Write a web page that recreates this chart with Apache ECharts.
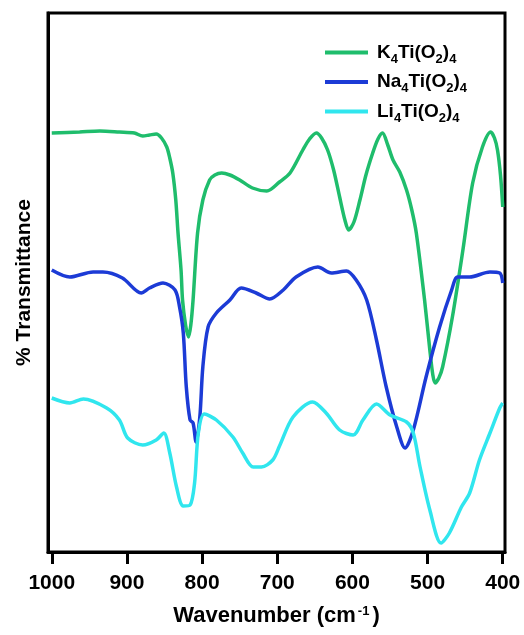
<!DOCTYPE html>
<html>
<head>
<meta charset="utf-8">
<script src="https://cdn.jsdelivr.net/npm/echarts@6/dist/echarts.min.js"></script>
<style>
  html, body { margin: 0; padding: 0; background: #fff; }
  #chart { width: 524px; height: 635px; }
</style>
</head>
<body>
<div id="chart"></div>
<script>
// wavenumber (cm-1), transmittance in arbitrary units (traces are offset)
const kData = [
  [1000,419],[963,420],[936,421],[910,420],[890,419],[879,416],[870,417],[861,418],[854,414],
  [847,405],[843,394],[839,379],[835,352],[832,319],[828,282],[826,252],[822,227],[818,215],
  [815,227],[812,252],[806,319],[799,352],[790,372],[783,377],[774,379],[763,377],[750,372],
  [733,364],[714,361],[697,370],[683,379],[666,402],[657,413],[648,419],[641,414],[633,402],
  [625,382],[617,355],[610,332],[605,322],[598,330],[590,352],[582,377],[573,399],[566,413],
  [560,419],[553,407],[546,392],[537,380],[528,362],[521,342],[515,319],[504,252],[497,202],
  [493,177],[490,169],[485,174],[480,185],[467,235],[453,302],[440,369],[427,405],[416,420],
  [411,414],[407,402],[403,377],[400,345]
]
const naData = [
  [1000,282],[976,275],[945,280],[932,280],[906,274],[881,259],[870,264],[852,269],[836,262],
  [830,245],[825,219],[821,165],[816,132],[812,129],[808,110],[803,135],[799,185],[792,225],
  [781,239],[763,252],[748,264],[728,259],[710,253],[692,262],[675,275],[646,285],[628,279],
  [608,281],[595,272],[581,252],[568,212],[555,165],[541,125],[530,104],[519,122],[502,175],
  [484,225],[468,262],[460,275],[444,275],[417,280],[404,279],[400,269]
]
const liData = [
  [1000,154],[976,149],[958,153],[927,144],[910,132],[899,114],[879,107],[861,112],[851,119],
  [843,99],[834,65],[825,46],[816,47],[810,69],[805,119],[797,138],[781,132],[759,115],
  [746,99],[732,85],[721,85],[706,92],[697,106],[679,135],[653,150],[635,139],[617,122],
  [599,117],[586,132],[568,148],[550,137],[528,130],[519,119],[510,85],[497,42],[482,9],
  [471,19],[455,45],[444,59],[431,92],[417,119],[404,144],[400,149]
]
const xTicks = [1000, 900, 800, 700, 600, 500, 400]
const seriesNames = ['K4Ti(O2)4', 'Na4Ti(O2)4', 'Li4Ti(O2)4']
const seriesColors = ['#1fbd6c', '#1c3bd6', '#30e6ee']

const chart = echarts.init(document.getElementById('chart'))

// legend labels with subscripts
function formulaRich(name){
    return name.replace(/(\d)/g, '{s|$1}').replace(/([^}|\d]+)(?=\{|$)/g, '{m|$1}')
}

const option = {
    animation: false,
    grid: {
        left: 48, right: 19, top: 13, bottom: 83,
        show: true,
        borderColor: '#000',
        borderWidth: 3
    },
    legend: {
        orient: 'vertical',
        left: 320,
        top: 38,
        itemWidth: 43,
        itemHeight: 4,
        itemGap: 7,
        icon: 'rect',
        formatter: (name) => formulaRich(name),
        textStyle: {
            padding: [0, 0, 0, 4],
            rich: {
                m: { fontFamily: 'Liberation Sans, Arial', fontWeight: 'bold', fontSize: 19, lineHeight: 26, color: '#000', verticalAlign: 'middle' },
                s: { fontFamily: 'Liberation Sans, Arial', fontWeight: 'bold', fontSize: 13, lineHeight: 13, color: '#000', verticalAlign: 'bottom' }
            }
        },
        data: seriesNames
    },
    xAxis: {
        type: 'value',
        inverse: true,
        min: 397,
        max: 1005,
        name: 'Wavenumber (cm{sup|-1})',
        nameLocation: 'middle',
        nameGap: 53,
        nameTextStyle: {
            fontFamily: 'Liberation Sans, Arial',
            fontWeight: 'bold',
            fontSize: 22,
            color: '#000',
            rich: {
                sup: { fontFamily: 'Liberation Sans, Arial', fontWeight: 'bold', fontSize: 13, color: '#000', verticalAlign: 'top', padding: [0, 3, 8, 2] }
            }
        },
        axisLine: { show: true, lineStyle: { color: '#000', width: 3 } },
        axisTick: {
            show: true, inside: false, length: 12,
            customValues: xTicks,
            lineStyle: { color: '#000', width: 3 }
        },
        axisLabel: {
            customValues: xTicks,
            formatter: (v) => String(v),
            margin: 21,
            fontFamily: 'Liberation Sans, Arial',
            fontWeight: 'bold',
            fontSize: 21,
            color: '#000'
        },
        splitLine: { show: false }
    },
    yAxis: {
        type: 'value',
        min: 0,
        max: 539,
        name: '% Transmittance',
        nameLocation: 'middle',
        nameGap: 13,
        nameTextStyle: {
            fontFamily: 'Liberation Sans, Arial',
            fontWeight: 'bold',
            fontSize: 21,
            color: '#000'
        },
        axisLine: { show: true, lineStyle: { color: '#000', width: 3 } },
        axisTick: { show: false },
        axisLabel: { show: false },
        splitLine: { show: false }
    },
    series: [kData, naData, liData].map((d, i) => ({
        name: seriesNames[i],
        type: 'line',
        data: d,
        smooth: 0.3,
        symbol: 'none',
        color: seriesColors[i],
        lineStyle: { width: 3.5, color: seriesColors[i] }
    }))
}

chart.setOption(option)
</script>
</body>
</html>
